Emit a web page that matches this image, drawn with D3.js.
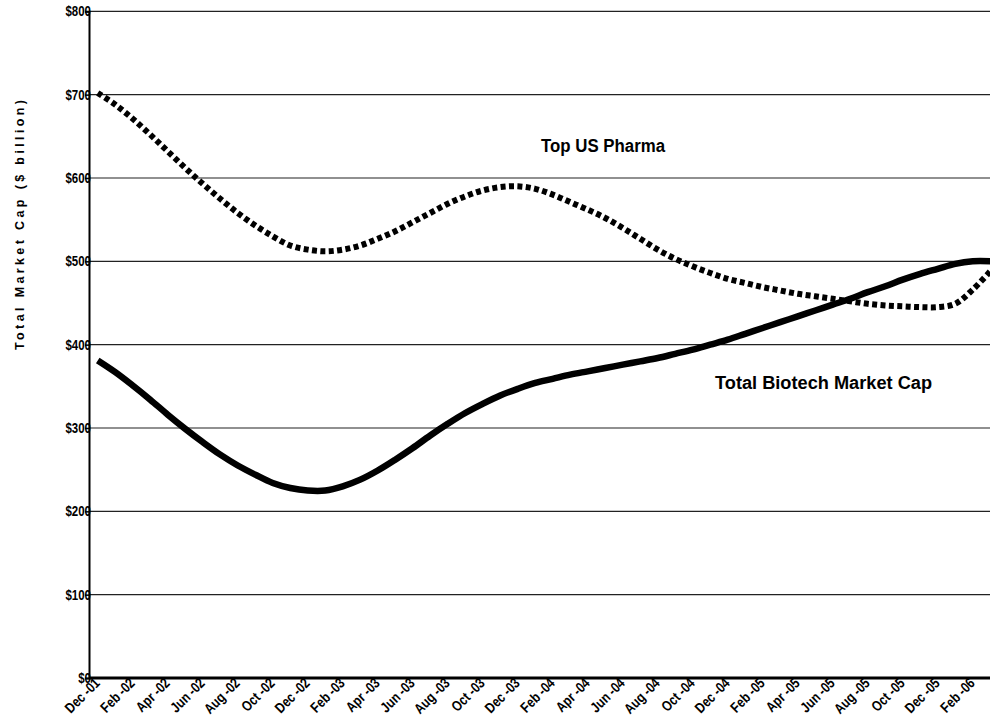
<!DOCTYPE html>
<html><head><meta charset="utf-8">
<script src="https://cdn.jsdelivr.net/npm/d3@7"></script>
<style>
body{margin:0;background:#fff;}
svg{display:block;}
text{font-family:"Liberation Sans",Arial,sans-serif;font-weight:bold;fill:#000;}
</style></head>
<body>
<svg id="c" width="990" height="723"></svg>
<script>
const months = ["Dec-01","Jan-02","Feb-02","Mar-02","Apr-02","May-02","Jun-02","Jul-02","Aug-02","Sep-02","Oct-02","Nov-02",
"Dec-02","Jan-03","Feb-03","Mar-03","Apr-03","May-03","Jun-03","Jul-03","Aug-03","Sep-03","Oct-03","Nov-03",
"Dec-03","Jan-04","Feb-04","Mar-04","Apr-04","May-04","Jun-04","Jul-04","Aug-04","Sep-04","Oct-04","Nov-04",
"Dec-04","Jan-05","Feb-05","Mar-05","Apr-05","May-05","Jun-05","Jul-05","Aug-05","Sep-05","Oct-05","Nov-05",
"Dec-05","Jan-06","Feb-06","Mar-06"];
const pharma = [702,688,671,652,632,612,593,575,558,543,530,519,514,512,514,519,527,536,547,558,569,578,585,589,
590,587,580,571,562,552,540,527,514,503,494,486,479,474,469,465,461,458,455,452,449,447,446,445,445,449,466,488];
const biotech = [381,367,351,334,316,299,283,268,255,244,234,228,225,225,230,238,249,262,276,291,305,318,329,339,
347,354,359,364,368,372,376,380,384,389,394,400,406,413,420,427,434,441,448,455,463,470,478,485,491,497,500,500];
const xTickLabels = ["Dec -01","Feb -02","Apr -02","Jun -02","Aug -02","Oct -02","Dec -02","Feb -03","Apr -03","Jun -03",
"Aug -03","Oct -03","Dec -03","Feb -04","Apr -04","Jun -04","Aug -04","Oct -04","Dec -04","Feb -05","Apr -05","Jun -05",
"Aug -05","Oct -05","Dec -05","Feb -06"];
const xTickMonths = months.filter((m,i)=>i%2===0 && i<=50);
const yTicks = [0,100,200,300,400,500,600,700,800];
const yTickLabels = ["$0","$100","$200","$300","$400","$500","$600","$700","$800"];
const seriesLabels = ["Top US Pharma","Total Biotech Market Cap"];
const yTitle = "Total Market Cap ($ billion)";

const svg = d3.select("#c");
const plotLeft = 89, plotRight = 999, plotTop = 11.3, plotBottom = 678;
const x = d3.scalePoint().domain(months).range([plotLeft+8.75, plotRight-8.75]);
const y = d3.scaleLinear().domain([0,800]).range([plotBottom, plotTop]);
const narrow = 0.82;

// gridlines
svg.append("g").selectAll("line").data(yTicks.filter(d=>d>0)).join("line")
  .attr("x1", plotLeft).attr("x2", plotRight)
  .attr("y1", d=>y(d)).attr("y2", d=>y(d))
  .attr("stroke", "#222").attr("stroke-width", 1.2);

// y axis
const yAxis = d3.axisLeft(y).tickValues(yTicks).tickSize(4).tickFormat("");
const gy = svg.append("g").attr("transform", `translate(${plotLeft},0)`).call(yAxis);
gy.select(".domain").attr("stroke","#000").attr("stroke-width",2);
gy.selectAll(".tick line").attr("stroke","#000").attr("stroke-width",1.5);
svg.append("g").selectAll("text").data(yTicks).join("text")
  .attr("transform", d=>`translate(${plotLeft+2},${y(d)+5}) scale(${narrow},1)`)
  .attr("text-anchor","end").attr("font-size", 14)
  .text((d,i)=>yTickLabels[i]);

// x axis
const xAxis = d3.axisBottom(x).tickValues(xTickMonths).tickSize(0).tickFormat("");
const gx = svg.append("g").attr("transform", `translate(0,${plotBottom})`).call(xAxis);
gx.select(".domain").attr("stroke","#000").attr("stroke-width",3).attr("d", `M${plotLeft},0H${plotRight}`);
svg.append("g").selectAll("text").data(xTickMonths).join("text")
  .attr("transform", d=>`translate(${x(d)+3},${plotBottom+6}) rotate(-45) scale(${narrow},1)`)
  .attr("text-anchor","end").attr("font-size", 14.5)
  .text((d,i)=>xTickLabels[i]);

// y title
svg.append("text").attr("transform", "translate(24,225) rotate(-90)")
  .attr("text-anchor","middle").attr("font-size", 12.5)
  .attr("textLength", 250).attr("lengthAdjust","spacing")
  .text(yTitle);

// lines
const line = d3.line().x((d,i)=>x(months[i])).y(d=>y(d)).curve(d3.curveCatmullRom.alpha(0.5));
svg.append("path").datum(biotech).attr("d", line).attr("fill","none")
  .attr("stroke","#000").attr("stroke-width",6.5).attr("stroke-linejoin","round");
svg.append("path").datum(pharma).attr("d", line).attr("fill","none")
  .attr("stroke","#000").attr("stroke-width",6).attr("stroke-dasharray","5 3.4");

// series labels
svg.append("text").attr("x", 541).attr("y", 152).attr("font-size", 18)
  .attr("textLength", 124).attr("lengthAdjust","spacingAndGlyphs").text(seriesLabels[0]);
svg.append("text").attr("x", 715).attr("y", 389).attr("font-size", 18)
  .attr("textLength", 217).attr("lengthAdjust","spacingAndGlyphs").text(seriesLabels[1]);
</script>
</body></html>
